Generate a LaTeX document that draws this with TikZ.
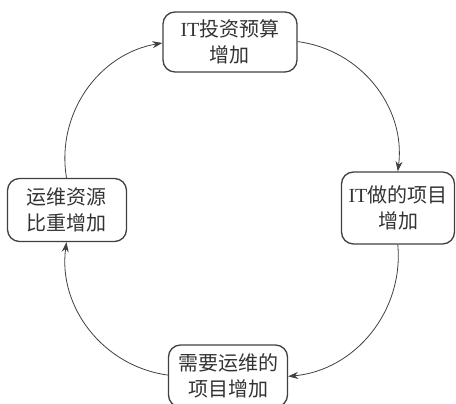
\documentclass[tikz,border=0pt]{standalone}
\usepackage{fontspec}
\setmainfont{Liberation Serif}
\newfontfamily\cjk{Noto Sans CJK SC}
\usetikzlibrary{arrows.meta}
\tikzset{
  box/.style={draw=black!75, line width=1.3pt, rounded corners=12pt, align=center,
    text=black!80, inner sep=2pt, font=\cjk\fontsize{20}{26}\selectfont},
  loop/.style={draw=black!75, line width=0.8pt, -{Stealth[length=10pt,width=7pt]}}
}
\begin{document}
\begin{tikzpicture}[x=1pt,y=1pt]
  \useasboundingbox (0,0) rectangle (456,404); %rammen
  \node[box, minimum width=134pt, minimum height=60pt] (budget) at (230,362) {{\rmfamily IT}投资预算\\增加}; %top
  \node[box, minimum width=113pt, minimum height=72pt] (projects) at (398,196) {{\rmfamily IT}做的项目\\增加}; %right
  \node[box, minimum width=119pt, minimum height=62pt] (ops) at (228,28) {需要运维的\\项目增加}; %bottom
  \node[box, minimum width=119pt, minimum height=63pt] (share) at (67,194) {运维资源\\比重增加}; %left
  \draw[loop] (budget) to[bend left=45] (projects);
  \draw[loop] (projects) to[bend left=45] (ops);
  \draw[loop] (ops) to[bend left=45] (share);
  \draw[loop] (share) to[bend left=45] (budget);
\end{tikzpicture}
\end{document}
